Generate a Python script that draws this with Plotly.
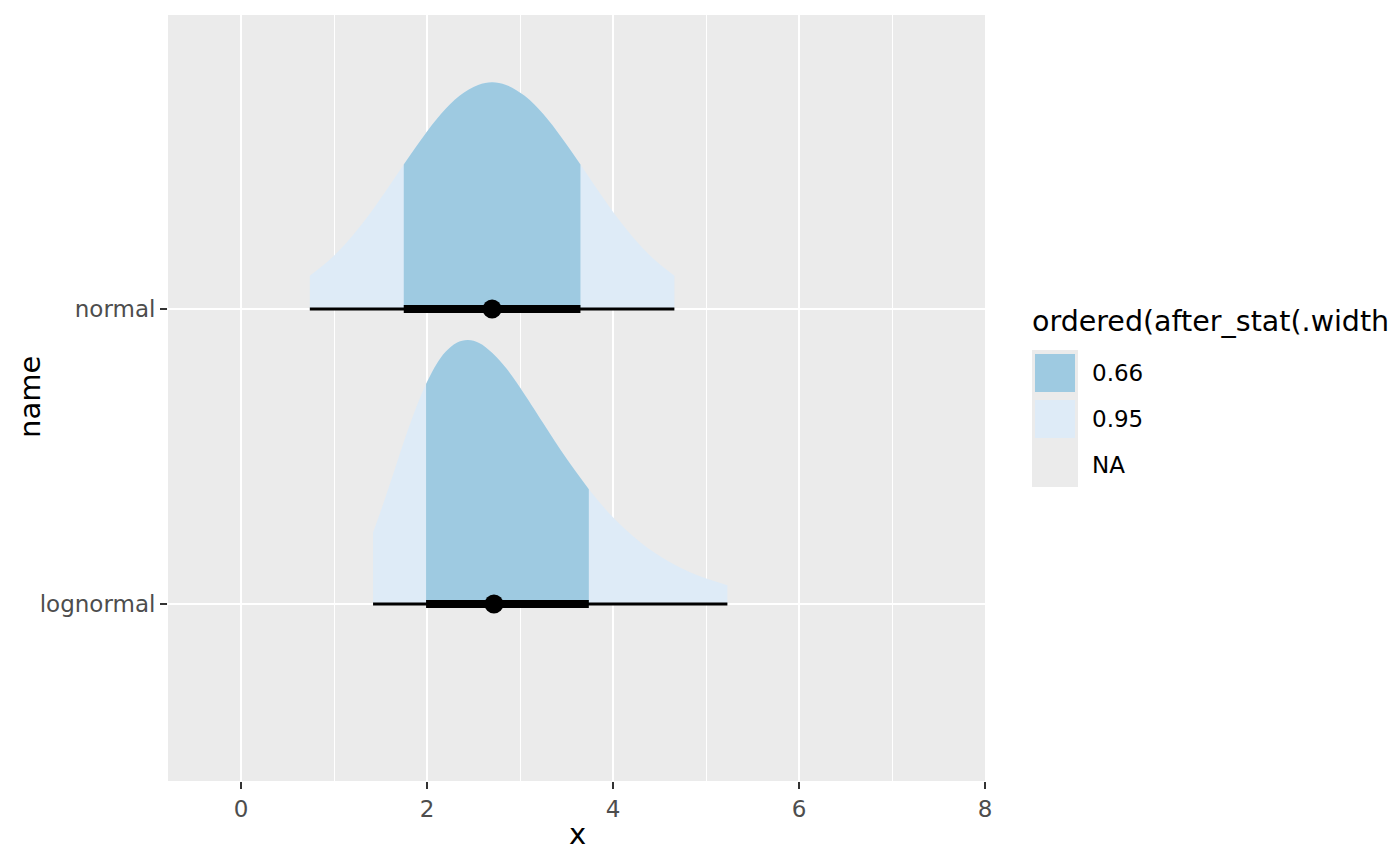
import plotly.graph_objects as go

# ---- data ----
names = ["lognormal", "normal"]
name_pos = [1, 2]

normal_x = [0.74, 0.95, 1.15, 1.35, 1.55, 1.75, 1.95, 2.15, 2.35, 2.55, 2.7,
            2.85, 3.05, 3.25, 3.45, 3.65, 3.85, 4.05, 4.25, 4.45, 4.66]
normal_h = [0.113, 0.166, 0.231, 0.309, 0.397, 0.490, 0.580, 0.661, 0.723, 0.760, 0.769,
            0.760, 0.723, 0.661, 0.580, 0.490, 0.397, 0.309, 0.231, 0.166, 0.113]

lognormal_x = [1.42, 1.5, 1.6, 1.7, 1.8, 1.9, 1.99, 2.1, 2.2, 2.32, 2.44, 2.56, 2.7, 2.85,
               3.0, 3.25, 3.5, 3.74, 4.0, 4.3, 4.6, 4.9, 5.23]
lognormal_h = [0.243, 0.313, 0.406, 0.502, 0.595, 0.680, 0.746, 0.812, 0.855, 0.886, 0.895,
               0.885, 0.852, 0.800, 0.734, 0.613, 0.493, 0.389, 0.294, 0.208, 0.144, 0.098, 0.064]

medians = [2.72, 2.70]
lo95 = [1.42, 0.74]
hi95 = [5.23, 4.66]
lo66 = [1.99, 1.75]
hi66 = [3.74, 3.65]

legend_title = "ordered(after_stat(.width"
widths = ["0.66", "0.95", "NA"]
x_ticks = [0, 2, 4, 6, 8]

# ---- styling ----
C66 = "#9ECAE1"
C95 = "#DEEBF7"
PANEL = "#EBEBEB"
TICK_SIZE = 23
TITLE_SIZE = 29
SMOOTH = 1.0

fig = go.Figure()

slabs = [(lognormal_x, lognormal_h), (normal_x, normal_h)]

for i, (xs, hs) in enumerate(slabs):
    base = name_pos[i]
    # 95% region
    fig.add_trace(go.Scatter(x=xs, y=[base] * len(xs), mode="lines",
                             line=dict(width=0), hoverinfo="skip", showlegend=False))
    fig.add_trace(go.Scatter(x=xs, y=[base + h for h in hs], mode="lines",
                             line=dict(width=0, shape="spline", smoothing=SMOOTH),
                             fill="tonexty", fillcolor=C95, hoverinfo="skip", showlegend=False))
    # 66% region
    sel = [k for k, xv in enumerate(xs) if lo66[i] <= xv <= hi66[i]]
    xi = [xs[k] for k in sel]
    hi_ = [hs[k] for k in sel]
    fig.add_trace(go.Scatter(x=xi, y=[base] * len(xi), mode="lines",
                             line=dict(width=0), hoverinfo="skip", showlegend=False))
    fig.add_trace(go.Scatter(x=xi, y=[base + h for h in hi_], mode="lines",
                             line=dict(width=0, shape="spline", smoothing=SMOOTH),
                             fill="tonexty", fillcolor=C66, hoverinfo="skip", showlegend=False))

for i in range(len(names)):
    base = name_pos[i]
    fig.add_trace(go.Scatter(x=[lo95[i], hi95[i]], y=[base, base], mode="lines",
                             line=dict(color="black", width=3), showlegend=False))
    fig.add_trace(go.Scatter(x=[lo66[i], hi66[i]], y=[base, base], mode="lines",
                             line=dict(color="black", width=8), showlegend=False))
    fig.add_trace(go.Scatter(x=[medians[i]], y=[base], mode="markers",
                             marker=dict(color="black", size=19), showlegend=False))

# ---- layout: window pixel coordinates of the panel (page body has 8px margin) ----
OFF = 8
FW, FH = 1400 - OFF, 866 - OFF
L, R, T, B = 168, 985, 15, 781

def px(xp):
    return (xp - L) / (R - L)

def py(yp):
    return (B - yp) / (B - T)

shapes = [
    dict(type="rect", xref="paper", yref="paper", x0=px(1032), x1=px(1078), y0=py(350), y1=py(487),
         fillcolor=PANEL, line=dict(width=0), layer="above"),
    dict(type="rect", xref="paper", yref="paper", x0=px(1035), x1=px(1075), y0=py(354), y1=py(392),
         fillcolor=C66, line=dict(width=0), layer="above"),
    dict(type="rect", xref="paper", yref="paper", x0=px(1035), x1=px(1075), y0=py(400), y1=py(438),
         fillcolor=C95, line=dict(width=0), layer="above"),
]
annotations = [
    dict(text=legend_title, xref="paper", yref="paper", x=px(1030), y=py(322),
         xanchor="left", yanchor="middle", showarrow=False,
         font=dict(size=28.5, color="black", family="DejaVu Sans")),
    dict(text="x", xref="paper", yref="paper", x=px(577), y=py(834),
         xanchor="center", yanchor="middle", showarrow=False,
         font=dict(size=TITLE_SIZE, color="black", family="DejaVu Sans")),
    dict(text="name", xref="paper", yref="paper", x=px(30), y=py(397), textangle=-90,
         xanchor="center", yanchor="middle", showarrow=False,
         font=dict(size=TITLE_SIZE, color="black", family="DejaVu Sans")),
]
for j, lab in enumerate(widths):
    annotations.append(dict(text=lab, xref="paper", yref="paper", x=px(1090), y=py(373 + 46 * j),
                            xanchor="left", yanchor="middle", showarrow=False,
                            font=dict(size=TICK_SIZE, color="black", family="DejaVu Sans")))

fig.update_layout(
    width=FW, height=FH,
    margin=dict(l=L - OFF, r=FW - (R - OFF), t=T - OFF, b=FH - (B - OFF), pad=0),
    paper_bgcolor="white", plot_bgcolor=PANEL,
    font=dict(family="DejaVu Sans", color="black"),
    shapes=shapes, annotations=annotations,
    showlegend=False,
)
fig.update_xaxes(
    range=[-0.785, 8.0], tickvals=x_ticks, ticktext=[str(v) for v in x_ticks],
    showgrid=True, gridcolor="white", gridwidth=2.4,
    minor=dict(dtick=1, tick0=0, showgrid=True, gridcolor="white", gridwidth=1.2),
    zeroline=False, showline=False, automargin=False,
    ticks="outside", ticklen=7, tickwidth=2, tickcolor="#333333",
    tickfont=dict(size=TICK_SIZE, color="#4D4D4D"),
)
fig.update_yaxes(
    range=[0.4, 2.997], tickvals=name_pos, ticktext=names,
    showgrid=True, gridcolor="white", gridwidth=2.4,
    zeroline=False, showline=False, automargin=False,
    ticks="outside", ticklen=7, tickwidth=2, tickcolor="#333333",
    tickfont=dict(size=TICK_SIZE, color="#4D4D4D"),
)

fig.write_html("out.html")
